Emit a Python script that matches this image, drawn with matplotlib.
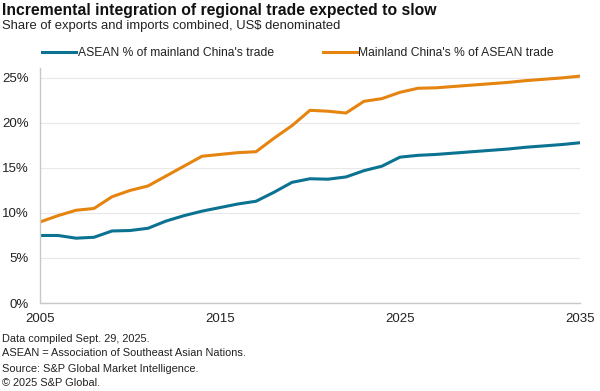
import matplotlib.pyplot as plt
from matplotlib.ticker import FuncFormatter

plt.rcParams['font.family'] = ['Liberation Sans', 'DejaVu Sans']

years = list(range(2005, 2036))
asean_share_of_china = [7.5, 7.5, 7.2, 7.3, 8.0, 8.05, 8.3, 9.1, 9.7, 10.2,
                        10.6, 11.0, 11.3, 12.3, 13.4, 13.8, 13.75, 14.0, 14.7, 15.2,
                        16.2, 16.4, 16.5, 16.65, 16.8, 16.95, 17.1, 17.3, 17.45, 17.6,
                        17.8]
china_share_of_asean = [9.0, 9.7, 10.3, 10.5, 11.8, 12.5, 13.0, 14.1, 15.2, 16.3,
                        16.5, 16.7, 16.8, 18.3, 19.7, 21.4, 21.3, 21.1, 22.4, 22.7,
                        23.4, 23.85, 23.9, 24.05, 24.2, 24.35, 24.5, 24.7, 24.85, 25.0,
                        25.2]
labels = ["ASEAN % of mainland China's trade", "Mainland China's % of ASEAN trade"]
xticks = [2005, 2015, 2025, 2035]
yticks = [0, 5, 10, 15, 20, 25]

teal = '#0B7391'
orange = '#E5840E'
text_col = '#222222'

fig = plt.figure(figsize=(6, 3.91), dpi=100)
ax = fig.add_axes([40 / 600, 1 - 303 / 391, 540 / 600, 235 / 391])

ax.plot(years, asean_share_of_china, color=teal, lw=2.2, label=labels[0], solid_joinstyle='round')
ax.plot(years, china_share_of_asean, color=orange, lw=2.2, label=labels[1], solid_joinstyle='round')

ax.set_xlim(2005, 2035)
ax.set_ylim(0, 26.1)
ax.set_xticks(xticks)
ax.set_yticks(yticks)
ax.yaxis.set_major_formatter(FuncFormatter(lambda v, p: f"{v:.0f}%"))
ax.tick_params(axis='both', length=0, labelsize=9.5, colors=text_col)
ax.tick_params(axis='y', pad=8)
ax.tick_params(axis='x', pad=7)
ax.grid(axis='y', color='#E8E8E8', lw=0.8)
ax.set_axisbelow(True)
for s in ['top', 'right']:
    ax.spines[s].set_visible(False)
for s in ['left', 'bottom']:
    ax.spines[s].set_color('#C8C8C8')
    ax.spines[s].set_linewidth(1.0)

fig.text(0.003, 1 - 10 / 391, "Incremental integration of regional trade expected to slow",
         fontsize=11.3, fontweight='bold', color='#111111', va='center')
fig.text(0.003, 1 - 26.5 / 391, "Share of exports and imports combined, US$ denominated",
         fontsize=9.4, color=text_col, va='center')

fig.legend(loc='center', bbox_to_anchor=(298 / 600, 1 - 53 / 391), ncol=2, frameon=False,
           fontsize=8.75, handlelength=2.8, handletextpad=0.15, columnspacing=4.0,
           labelcolor=text_col)

notes = ["Data compiled Sept. 29, 2025.",
         "ASEAN = Association of Southeast Asian Nations.",
         "Source: S&P Global Market Intelligence.",
         "\u00a9 2025 S&P Global."]
note_y = [339, 353, 369, 383]
for n, y in zip(notes, note_y):
    fig.text(0.003, 1 - y / 391, n, fontsize=7.9, color=text_col, va='center')

fig.savefig('out.png', dpi=100)
